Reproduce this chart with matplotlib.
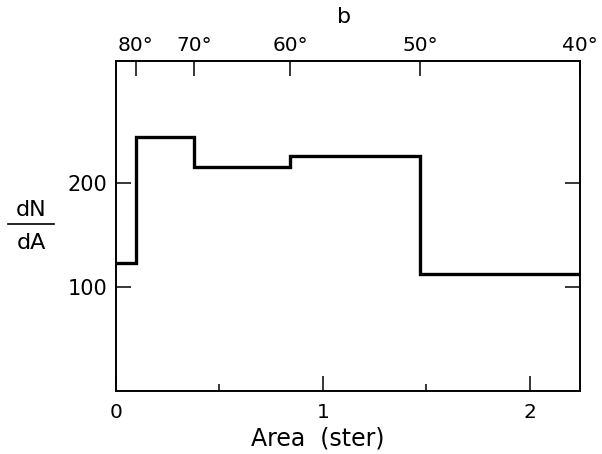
import numpy as np
import matplotlib
matplotlib.use('Agg')
from matplotlib import pyplot as plt
from matplotlib.lines import Line2D

# bin edges in area (ster) and dN/dA per bin
edges = [0.0, 0.0955, 0.379, 0.842, 1.47, 2.244]
dnda = [123, 245, 216, 226, 113]

# top axis: latitude of polar cap edges
lat_deg = [80, 70, 60, 50, 40]
lat_area = [0.0955, 0.379, 0.842, 1.47, 2.244]

plt.rcParams['font.family'] = 'DejaVu Sans'

fig = plt.figure(figsize=(6.02, 4.54), dpi=100)
ax = fig.add_axes([0.1927, 0.1388, 0.7708, 0.7269])

ax.stairs(dnda, edges, color='black', linewidth=2.4, baseline=None)

ax.set_xlim(0, 2.244)
ax.set_ylim(0, 318)

for s in ax.spines.values():
    s.set_linewidth(1.2)

ax.set_xticks([0, 1, 2])
ax.set_xticklabels(['0', '1', '2'])
ax.set_xticks([0.5, 1.5], minor=True)
ax.set_yticks([100, 200])
ax.set_yticklabels(['100', '200'])
ax.tick_params(axis='x', which='major', direction='in', length=11, width=1.1,
               labelsize=14.5, pad=8.5, top=False)
ax.tick_params(axis='x', which='minor', direction='in', length=5, width=1.1,
               top=False)
ax.tick_params(axis='y', direction='in', length=11, width=1.1, labelsize=15,
               pad=6, right=True)

top = ax.twiny()
top.set_xlim(ax.get_xlim())
top.set_xticks(lat_area)
top.set_xticklabels(['%d°' % d for d in lat_deg])
top.tick_params(axis='x', direction='in', length=11, width=1.1, labelsize=14.5,
                pad=4)
for s in top.spines.values():
    s.set_linewidth(1.2)

# x label sits a little left of the axes centre in the original
fig.text(0.527, 0.035, 'Area  (ster)', fontsize=17, ha='center', va='center')

fig.text(0.571, 0.963, 'b', fontsize=16, ha='center', va='center')

# dN/dA label as a stacked fraction
fig.text(0.0515, 0.537, 'dN', fontsize=16, ha='center', va='center')
fig.text(0.0515, 0.465, 'dA', fontsize=16, ha='center', va='center')
fig.add_artist(Line2D([0.0133, 0.0897], [0.5066, 0.5066], color='black',
                      linewidth=1.2, transform=fig.transFigure))

plt.savefig('out.png', dpi=100)
